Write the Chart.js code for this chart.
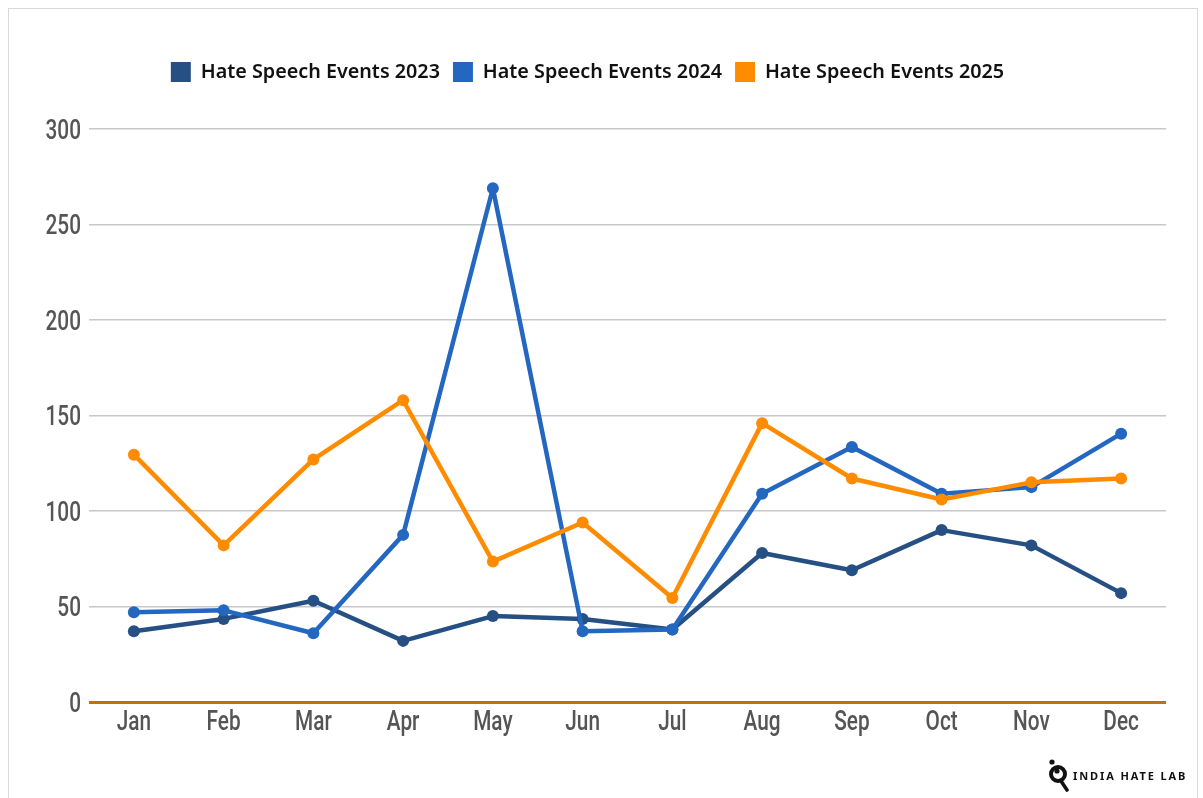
<!DOCTYPE html>
<html>
<head>
<meta charset="utf-8">
<title>Hate Speech Events</title>
<script src="https://cdn.jsdelivr.net/npm/chart.js@4"></script>
<style>
  html, body { margin: 0; padding: 0; background: #fff; }
  #page { position: relative; width: 1203px; height: 798px; overflow: hidden; }
  #frame { position: absolute; left: 8px; top: 8px; width: 1188px; height: 800px; border: 1px solid #d9d9d9; }
  canvas { position: absolute; left: 0; top: 0; }
  #logo { position: absolute; left: 1048px; top: 759px; display: flex; align-items: center; }
  #logo span { font: 700 11px "Noto Sans", sans-serif; letter-spacing: 1.9px; color: #111; margin-left: 3px; }
</style>
</head>
<body>
<div id="page">
  <div id="frame"></div>
  <canvas id="hateChart" width="1203" height="798"></canvas>
  <div id="logo">
    <svg width="22" height="33" viewBox="0 0 22 33">
      <circle cx="4" cy="3" r="2.6" fill="#111"/>
      <circle cx="10" cy="15" r="7" fill="none" stroke="#111" stroke-width="4"/>
      <circle cx="9" cy="12" r="2.6" fill="#111"/>
      <line x1="13" y1="22" x2="19" y2="31" stroke="#111" stroke-width="3.6" stroke-linecap="round"/>
    </svg>
    <span>INDIA HATE LAB</span>
  </div>
</div>
<script>
const months = ["Jan", "Feb", "Mar", "Apr", "May", "Jun", "Jul", "Aug", "Sep", "Oct", "Nov", "Dec"];
const events2023 = [37, 43.5, 53, 32, 45, 43.5, 38, 78, 69, 90, 82, 57];
const events2024 = [47, 48, 36, 87.5, 269, 37, 38, 109, 133.5, 109, 112.5, 140.5];
const events2025 = [129.5, 82, 127, 158, 73.5, 94, 54.5, 146, 117, 106, 115, 117];
const yTicks = [0, 50, 100, 150, 200, 250, 300];

const tickFont = { family: "Roboto, sans-serif", size: 27, weight: "500" };
const tickSqueeze = 0.77;

function lineSet(label, data, color, order) {
  return {
    label: label,
    data: data,
    borderColor: color,
    backgroundColor: color,
    borderWidth: 4.5,
    borderJoinStyle: "round",
    pointRadius: 6,
    pointHoverRadius: 6,
    pointBorderWidth: 0,
    tension: 0,
    order: order
  };
}

// no condensed font is installed, so tick labels are squeezed sideways
function drawNarrowLabels(chartArea) {
  const ctx = this.ctx;
  const drop = this.axis === "y" ? 3 : 0;
  this.getLabelItems(chartArea).forEach(function (item) {
    const o = item.options;
    ctx.save();
    ctx.font = item.font.string;
    ctx.fillStyle = o.color;
    ctx.textAlign = o.textAlign;
    ctx.textBaseline = o.textBaseline;
    ctx.translate(o.translation[0], o.translation[1] + drop);
    ctx.scale(tickSqueeze, 1);
    ctx.fillText(item.label, 0, item.textOffset);
    ctx.restore();
  });
}

const narrowTicks = {
  id: "narrowTicks",
  beforeDraw: function (chart) {
    chart.scales.x.drawLabels = drawNarrowLabels;
    chart.scales.y.drawLabels = drawNarrowLabels;
  }
};

// extra room under the legend, and nudge it right of the plot centre
const legendGap = {
  id: "legendGap",
  beforeInit: function (chart) {
    const fit = chart.legend.fit;
    const draw = chart.legend.draw;
    chart.legend.fit = function () {
      fit.call(this);
      this.height += 37;
    };
    chart.legend.draw = function () {
      this.ctx.save();
      this.ctx.translate(4, 0);
      draw.call(this);
      this.ctx.restore();
    };
  }
};

new Chart(document.getElementById("hateChart"), {
  type: "line",
  data: {
    labels: months,
    datasets: [
      lineSet("Hate Speech Events 2023", events2023, "#264f84", 3),
      lineSet("Hate Speech Events 2024", events2024, "#2467c0", 2),
      lineSet("Hate Speech Events 2025", events2025, "#ff8c00", 1)
    ]
  },
  plugins: [narrowTicks, legendGap],
  options: {
    responsive: false,
    animation: false,
    layout: { padding: { top: 49, left: 1, right: 37, bottom: 60 } },
    plugins: {
      tooltip: { enabled: false },
      legend: {
        position: "top",
        labels: {
          boxWidth: 20,
          boxHeight: 20,
          padding: 13,
          color: "#111",
          font: { family: "'Noto Sans', sans-serif", size: 19.75, weight: "600" },
          sort: function (a, b) { return a.datasetIndex - b.datasetIndex; },
          generateLabels: function (chart) {
            return Chart.defaults.plugins.legend.labels.generateLabels(chart).map(function (l) {
              l.lineWidth = 0;
              return l;
            });
          }
        }
      }
    },
    scales: {
      x: {
        offset: true,
        border: { display: false },
        grid: { display: false, drawTicks: false },
        ticks: { color: "#555", font: tickFont, padding: 5, maxRotation: 0 },
        afterFit: function (scale) { scale.height = 36; }
      },
      y: {
        min: 0,
        max: 300,
        border: { display: false },
        afterBuildTicks: function (scale) { scale.ticks = yTicks.map(function (v) { return { value: v }; }); },
        grid: {
          drawTicks: false,
          color: function (ctx) { return ctx.tick && ctx.tick.value === 0 ? "#c76e0a" : "#c8c8c8"; },
          lineWidth: function (ctx) { return ctx.tick && ctx.tick.value === 0 ? 3 : 1.5; }
        },
        ticks: { color: "#555", font: tickFont, padding: 8 },
        afterFit: function (scale) { scale.width = 88; }
      }
    }
  }
});
</script>
</body>
</html>
